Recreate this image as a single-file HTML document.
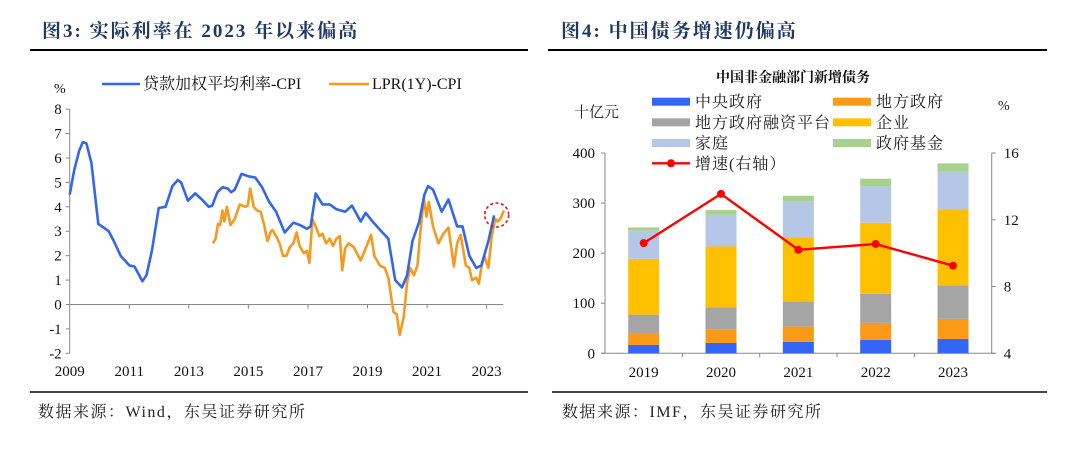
<!DOCTYPE html>
<html><head><meta charset="utf-8">
<style>
html,body{margin:0;padding:0;background:#fff;}
body{width:1080px;height:447px;overflow:hidden;}
svg text{font-family:"Liberation Serif","Noto Serif CJK SC",serif;}
</style></head>
<body>
<svg width="1080" height="447" viewBox="0 0 1080 447" xmlns="http://www.w3.org/2000/svg">
  <text x="42" y="37" font-size="19" font-weight="bold" letter-spacing="2" fill="#1f3864">图3:  实际利率在 2023 年以来偏高</text>
  <line x1="30" y1="50" x2="528" y2="50" stroke="#000" stroke-width="2"/>
  <text x="561" y="37" font-size="19" font-weight="bold" letter-spacing="2" fill="#1f3864">图4:  中国债务增速仍偏高</text>
  <line x1="548" y1="50" x2="1047" y2="50" stroke="#000" stroke-width="2"/>
  <line x1="30" y1="392" x2="528" y2="392" stroke="#000" stroke-width="1.5"/>
  <line x1="552" y1="392" x2="1047" y2="392" stroke="#000" stroke-width="1.5"/>
  <text x="38" y="417" font-size="16" letter-spacing="1.5" fill="#222">数据来源：Wind，东吴证券研究所</text>
  <text x="562" y="417" font-size="16" letter-spacing="1.5" fill="#222">数据来源：IMF，东吴证券研究所</text>

  <g id="left"></g>
  <g id="right"></g>
</svg>
<script>
// ===== Left chart data =====
const blueYears = [2009.00,2009.15,2009.32,2009.44,2009.56,2009.73,2009.96,2010.14,2010.31,2010.48,2010.71,2011.00,2011.18,2011.44,2011.58,2011.76,2011.99,2012.22,2012.45,2012.63,2012.74,2012.97,2013.21,2013.44,2013.67,2013.79,2013.96,2014.13,2014.31,2014.42,2014.54,2014.77,2015.00,2015.23,2015.46,2015.70,2015.93,2016.22,2016.51,2016.74,2016.97,2017.09,2017.26,2017.49,2017.73,2017.96,2018.25,2018.48,2018.77,2018.94,2019.17,2019.46,2019.70,2019.93,2020.16,2020.33,2020.51,2020.74,2020.91,2021.03,2021.20,2021.49,2021.72,2022.01,2022.19,2022.42,2022.65,2022.82,2023.06,2023.25];
const blueValues = [4.5,5.5,6.3,6.65,6.6,5.8,3.3,3.15,3.0,2.6,2.0,1.6,1.55,0.95,1.2,2.2,3.95,4.0,4.85,5.1,5.0,4.25,4.55,4.3,4.0,4.05,4.6,4.8,4.75,4.6,4.7,5.35,5.25,5.2,4.8,4.2,3.8,2.95,3.35,3.25,3.1,3.2,4.55,4.1,4.1,3.9,3.8,4.05,3.4,3.75,3.4,3.0,2.7,1.0,0.7,1.2,2.6,3.4,4.5,4.85,4.7,3.8,4.3,3.2,3.2,2.0,1.5,1.6,2.6,3.65];
const orangeYears = [2013.81,2013.90,2013.98,2014.05,2014.13,2014.19,2014.28,2014.40,2014.54,2014.71,2014.89,2014.98,2015.06,2015.18,2015.29,2015.41,2015.52,2015.64,2015.76,2015.81,2015.93,2016.05,2016.16,2016.28,2016.39,2016.51,2016.62,2016.72,2016.86,2016.97,2017.05,2017.15,2017.26,2017.38,2017.49,2017.61,2017.73,2017.84,2017.96,2018.07,2018.15,2018.25,2018.36,2018.54,2018.77,2018.94,2019.12,2019.23,2019.41,2019.58,2019.70,2019.87,2019.98,2020.08,2020.22,2020.33,2020.43,2020.56,2020.68,2020.77,2020.89,2020.98,2021.06,2021.20,2021.38,2021.55,2021.72,2021.90,2022.01,2022.13,2022.30,2022.42,2022.51,2022.65,2022.74,2022.82,2022.92,2023.06,2023.17,2023.29,2023.37,2023.46,2023.58];
const orangeValues = [2.5,2.7,3.3,3.25,3.85,3.4,4.0,3.25,3.5,4.1,4.0,4.05,4.75,4.0,3.85,3.8,3.3,2.6,3.0,3.05,2.8,2.5,2.0,2.0,2.35,2.5,2.95,2.4,2.1,2.2,1.7,3.5,3.2,2.8,2.9,2.5,2.7,2.4,2.7,2.8,1.4,2.3,2.5,2.35,1.8,2.3,2.85,2.0,1.6,1.5,1.1,-0.3,-0.4,-1.25,-0.5,0.9,1.5,1.2,1.6,2.9,4.35,3.6,4.2,3.2,2.5,2.9,3.15,1.55,2.5,2.85,1.6,1.5,1.0,1.1,0.85,1.5,2.0,1.5,2.8,3.5,3.4,3.5,3.85];
const leftYTicks = [-2,-1,0,1,2,3,4,5,6,7,8];
const leftXTicks = [2009,2011,2013,2015,2017,2019,2021,2023];

// ===== Right chart data =====
const debtYears = ['2019','2020','2021','2022','2023'];
const centralGov = [16.7,20.7,22.7,26.7,28.7];
const localGov = [22,27.3,30.6,34,40];
const lgfv = [38.6,44,50,58,66.6];
const corporate = [111.4,121.3,128.7,142,152.7];
const household = [56,63.4,70.7,72.6,76];
const govFund = [6.6,9.3,12,15.4,15.3];
const growthRate = [10.6,13.55,10.2,10.55,9.25];
const rightLeftTicks = [0,100,200,300,400];
const rightRightTicks = [4,8,12,16];

const NS='http://www.w3.org/2000/svg';
function mk(parent, tag, attrs, txt){
  const e=document.createElementNS(NS,tag);
  for(const k in attrs) e.setAttribute(k,attrs[k]);
  if(txt!==undefined) e.textContent=txt;
  parent.appendChild(e); return e;
}

// ---- left chart ----
(function(){
  const g=document.getElementById('left');
  const x0=69.7, pxYear=29.78, xEnd=503.3;
  const yZero=304.5, pxUnit=24.42;
  const X=y=>x0+(y-2009)*pxYear;
  const Y=v=>yZero-v*pxUnit;
  let e;
  e=mk(g,'line',{x1:x0,y1:Y(8),x2:x0,y2:Y(-2),stroke:'#888','stroke-width':1});
  
  
  e=mk(g,'line',{x1:x0,y1:yZero,x2:xEnd,y2:yZero,stroke:'#888','stroke-width':1});
  
  
  leftYTicks.forEach(t=>{
    const tk=mk(g,'line',{x1:x0-4,y1:Y(t),x2:x0,y2:Y(t),stroke:'#888'});
    
    
    const lb=mk(g,'text',{x:x0-8,y:Y(t)+5,'font-size':15,'text-anchor':'end',fill:'#111'},String(t));
    
    
  });
  leftXTicks.forEach(t=>{
    if(t>2009){
      const tk=mk(g,'line',{x1:X(t),y1:yZero,x2:X(t),y2:yZero+4,stroke:'#888'});
      
      
    }
    const lb=mk(g,'text',{x:X(t),y:376,'font-size':15,'text-anchor':'middle',fill:'#111'},String(t));
    
    
  });
  e=mk(g,'text',{x:54,y:93,'font-size':14,fill:'#111'},'%');
  
  
  function path(xs,vs,color,name){
    let d='';
    xs.forEach((y,i)=>{d+=(i?'L':'M')+X(y).toFixed(1)+','+Y(vs[i]).toFixed(1);});
    const p=mk(g,'path',{d:d,fill:'none',stroke:color,'stroke-width':2.6,'stroke-linejoin':'round'});
    
    
  }
  path(orangeYears,orangeValues,'#f7991e','lpr-cpi-line');
  path(blueYears,blueValues,'#3366f0','loan-rate-cpi-line');
  e=mk(g,'circle',{cx:496.7,cy:215,r:12,fill:'none',stroke:'#e8141b','stroke-width':1.6,'stroke-dasharray':'3,2.5'});
  
  
  // legend
  e=mk(g,'line',{x1:102,y1:84,x2:140,y2:84,stroke:'#3366f0','stroke-width':2.6});
  
  
  e=mk(g,'text',{x:143,y:89,'font-size':16,fill:'#111'},'贷款加权平均利率-CPI');
  
  
  e=mk(g,'line',{x1:329,y1:84,x2:369,y2:84,stroke:'#f7991e','stroke-width':2.6});
  
  
  e=mk(g,'text',{x:372,y:89,'font-size':16,fill:'#111'},'LPR(1Y)-CPI');
  
  
})();

// ---- right chart ----
(function(){
  const g=document.getElementById('right');
  const xL=605, xR=991.7, yB=353.3, yT=153;
  const catW=(xR-xL)/debtYears.length;
  const barW=31;
  const Y=v=>yB-v/400*(yB-yT);
  const YR=v=>yB-(v-4)/12*(yB-yT);
  const CX=i=>xL+catW*(i+0.5);
  let e;
  e=mk(g,'line',{x1:xL,y1:yT,x2:xL,y2:yB,stroke:'#888'});
  
  
  e=mk(g,'line',{x1:xR,y1:yT,x2:xR,y2:yB,stroke:'#888'});
  
  
  e=mk(g,'line',{x1:xL-4,y1:yB,x2:xR+4,y2:yB,stroke:'#888'});
  
  
  rightLeftTicks.forEach(t=>{
    const tk=mk(g,'line',{x1:xL-4,y1:Y(t),x2:xL,y2:Y(t),stroke:'#888'});
    
    
    const lb=mk(g,'text',{x:xL-10,y:Y(t)+5,'font-size':15,'text-anchor':'end',fill:'#111'},String(t));
    
    
  });
  rightRightTicks.forEach(t=>{
    const tk=mk(g,'line',{x1:xR,y1:YR(t),x2:xR+4,y2:YR(t),stroke:'#888'});
    
    
    const lb=mk(g,'text',{x:xR+12,y:YR(t)+5,'font-size':15,fill:'#111'},String(t));
    
    
  });
  for(let i=1;i<debtYears.length;i++){
    const tk=mk(g,'line',{x1:xL+catW*i,y1:yB,x2:xL+catW*i,y2:yB+4,stroke:'#888'});
    
    
  }
  const series=[[centralGov,'#3366f5','central-gov'],[localGov,'#fa9a17','local-gov'],[lgfv,'#a5a5a5','lgfv'],[corporate,'#ffc000','corporate'],[household,'#b4c7e7','household'],[govFund,'#a9d18e','gov-fund']];
  debtYears.forEach((yr,i)=>{
    let base=0;
    series.forEach(s=>{
      const v=s[0][i];
      const r=mk(g,'rect',{x:CX(i)-barW/2,y:Y(base+v),width:barW,height:Y(base)-Y(base+v),fill:s[1]});
      
      
      base+=v;
    });
    const lb=mk(g,'text',{x:CX(i),y:377,'font-size':15,'text-anchor':'middle',fill:'#111'},yr);
    
    
  });
  let d='';
  growthRate.forEach((v,i)=>{d+=(i?'L':'M')+CX(i).toFixed(1)+','+YR(v).toFixed(1);});
  e=mk(g,'path',{d:d,fill:'none',stroke:'#ff0000','stroke-width':2.4});
  
  
  growthRate.forEach((v,i)=>{
    const c=mk(g,'circle',{cx:CX(i),cy:YR(v),r:4,fill:'#ff0000'});
    
    
  });
  e=mk(g,'text',{x:793,y:82,'font-size':14,'font-weight':'bold','text-anchor':'middle',fill:'#111','font-family':'"Liberation Sans","Noto Sans CJK SC",sans-serif'},'中国非金融部门新增债务');
  
  
  e=mk(g,'text',{x:574,y:117,'font-size':15,fill:'#222'},'十亿元');
  
  
  e=mk(g,'text',{x:998,y:110,'font-size':14,fill:'#222'},'%');
  
  
  const leg=[['中央政府','#3366f5',652,101.7],['地方政府','#fa9a17',833,101.7],['地方政府融资平台','#a5a5a5',652,122.3],['企业','#ffc000',833,122.3],['家庭','#b4c7e7',652,143],['政府基金','#a9d18e',833,143]];
  leg.forEach(l=>{
    const r=mk(g,'rect',{x:l[2],y:l[3]-4,width:38,height:8,fill:l[1]});
    
    
    const t=mk(g,'text',{x:l[2]+43,y:l[3]+5.5,'font-size':16,'letter-spacing':1,fill:'#222'},l[0]);
    
    
  });
  e=mk(g,'line',{x1:652,y1:163.3,x2:690,y2:163.3,stroke:'#ff0000','stroke-width':2.4});
  
  
  e=mk(g,'circle',{cx:671,cy:163.3,r:4,fill:'#ff0000'});
  
  
  e=mk(g,'text',{x:695,y:169,'font-size':16,'letter-spacing':1,fill:'#222'},'增速(右轴）');
  
  
})();
</script>
</body></html>
